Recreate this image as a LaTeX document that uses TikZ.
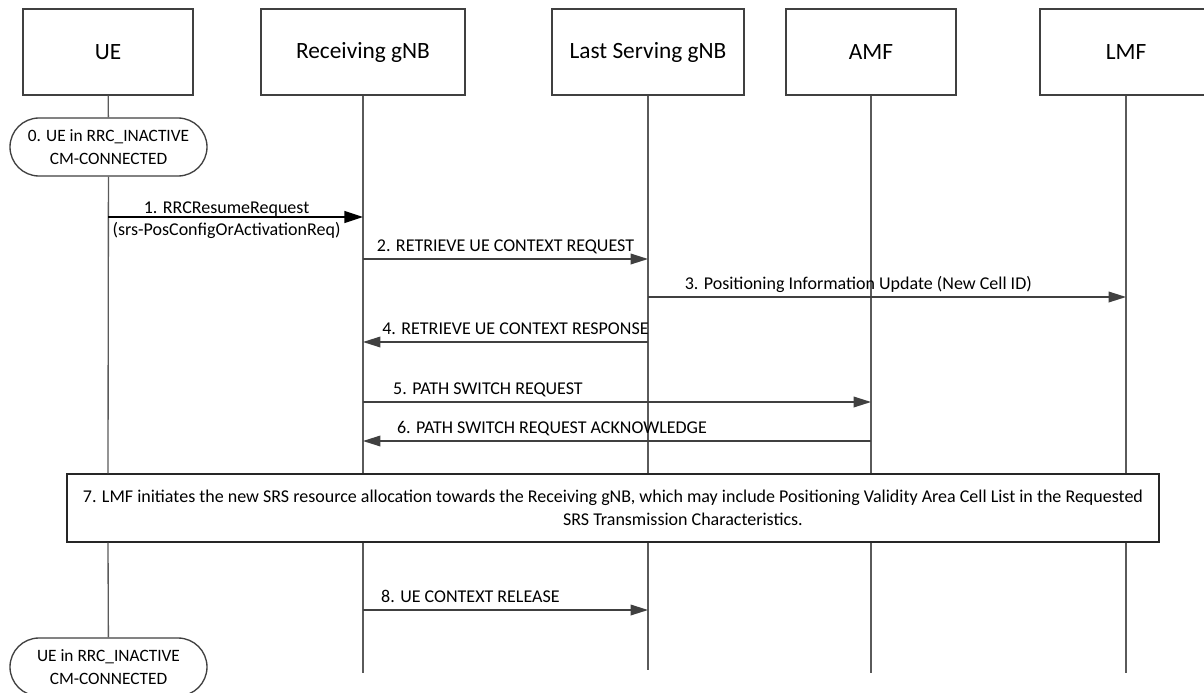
\documentclass[tikz,border=0pt]{standalone}
\usepackage{fontspec}
\setmainfont{Carlito}
\usetikzlibrary{arrows.meta,positioning}
\definecolor{lifegray}{RGB}{90,90,90}
\definecolor{msggray}{RGB}{64,64,64}

\begin{document}
\begin{tikzpicture}[
  x=0.75pt, y=-0.75pt,
  font=\fontsize{13.5}{17}\selectfont,
  entity/.style={draw=msggray, line width=1pt, fill=white, minimum height=64.5pt, font=\fontsize{17.5}{20}\selectfont},
  state/.style={draw=msggray, line width=1pt, fill=white, rounded corners=21.75pt, minimum width=147.75pt, minimum height=43.5pt, align=center, font=\fontsize{13}{17}\selectfont},
  note/.style={draw=black!85, line width=1pt, fill=white, minimum width=819pt, minimum height=51pt, align=center},
  life/.style={draw=lifegray, line width=1pt},
  msg/.style={draw=msggray, line width=1pt, -{Triangle[length=13pt,width=8pt]}},
  lbl/.style={anchor=base, yshift=6pt, inner sep=0pt}
]
\useasboundingbox (0,0) rectangle (1204,693);

% entities
\node[entity, minimum width=127.5pt] (ue) at (108,52) {UE};
\node[entity, minimum width=153pt] (rx) at (363,52) {Receiving gNB};
\node[entity, minimum width=144pt] (ls) at (648,52) {Last Serving gNB};
\node[entity, minimum width=127.5pt] (amf) at (871,52) {AMF};
\node[entity, minimum width=129pt] (lmf) at (1126,52) {LMF};

% states and common step
\node[state] (s0) at (108.5,147) {0. UE in RRC\_INACTIVE\\CM-CONNECTED};
\node[note] (s7) at (613,508) {7. LMF initiates the new SRS resource allocation towards the Receiving gNB, which may include Positioning Validity Area Cell List in the Requested\\\hspace*{105pt}SRS Transmission Characteristics.};
\node[state] (s9) at (108.5,667) {UE in RRC\_INACTIVE\\CM-CONNECTED};

% message rows
\coordinate (m1) at (0,217);
\coordinate (m2) at (0,259);
\coordinate (m3) at (0,297);
\coordinate (m4) at (0,342);
\coordinate (m5) at (0,402);
\coordinate (m6) at (0,441);
\coordinate (m8) at (0,610);
\coordinate (rxEnd) at (363,673);
\coordinate (lsEnd) at (648,670);
\coordinate (amfEnd) at (871,673);
\coordinate (lmfEnd) at (1126,673);

% lifelines
\draw[life] (ue) -- (s0);
\draw[life] (s0) -- (ue |- s7.north);
\draw[life] (ue |- s7.south) -- (s9);
\draw[life] (rx) -- (rx |- s7.north);
\draw[life] (rx |- s7.south) -- (rxEnd);
\draw[life] (ls) -- (ls |- s7.north);
\draw[life] (ls |- s7.south) -- (lsEnd);
\draw[life] (amf) -- (amf |- s7.north);
\draw[life] (amf |- s7.south) -- (amfEnd);
\draw[life] (lmf) -- (lmf |- s7.north);
\draw[life] (lmf |- s7.south) -- (lmfEnd);

% messages
\draw[msg, draw=black, -{Triangle[length=14pt,width=9pt]}] (ue |- m1) -- node[pos=0.465, align=center, inner sep=0pt, yshift=-2.5pt] {1. RRCResumeRequest\\(srs-PosConfigOrActivationReq)} (rx |- m1);
\draw[msg] (rx |- m2) -- node[lbl, pos=0.5] {2. RETRIEVE UE CONTEXT REQUEST} (ls |- m2);
\draw[msg] (ls |- m3) -- node[lbl, pos=0.44] {3. Positioning Information Update (New Cell ID)} (lmf |- m3);
\draw[msg] (ls |- m4) -- node[lbl, pos=0.465] {4. RETRIEVE UE CONTEXT RESPONSE} (rx |- m4);
\draw[msg] (rx |- m5) -- node[lbl, pos=0.246] {5. PATH SWITCH REQUEST} (amf |- m5);
\draw[msg] (amf |- m6) -- node[lbl, pos=0.628] {6. PATH SWITCH REQUEST ACKNOWLEDGE} (rx |- m6);
\draw[msg] (rx |- m8) -- node[lbl, pos=0.377] {8. UE CONTEXT RELEASE} (ls |- m8);
\end{tikzpicture}
\end{document}
